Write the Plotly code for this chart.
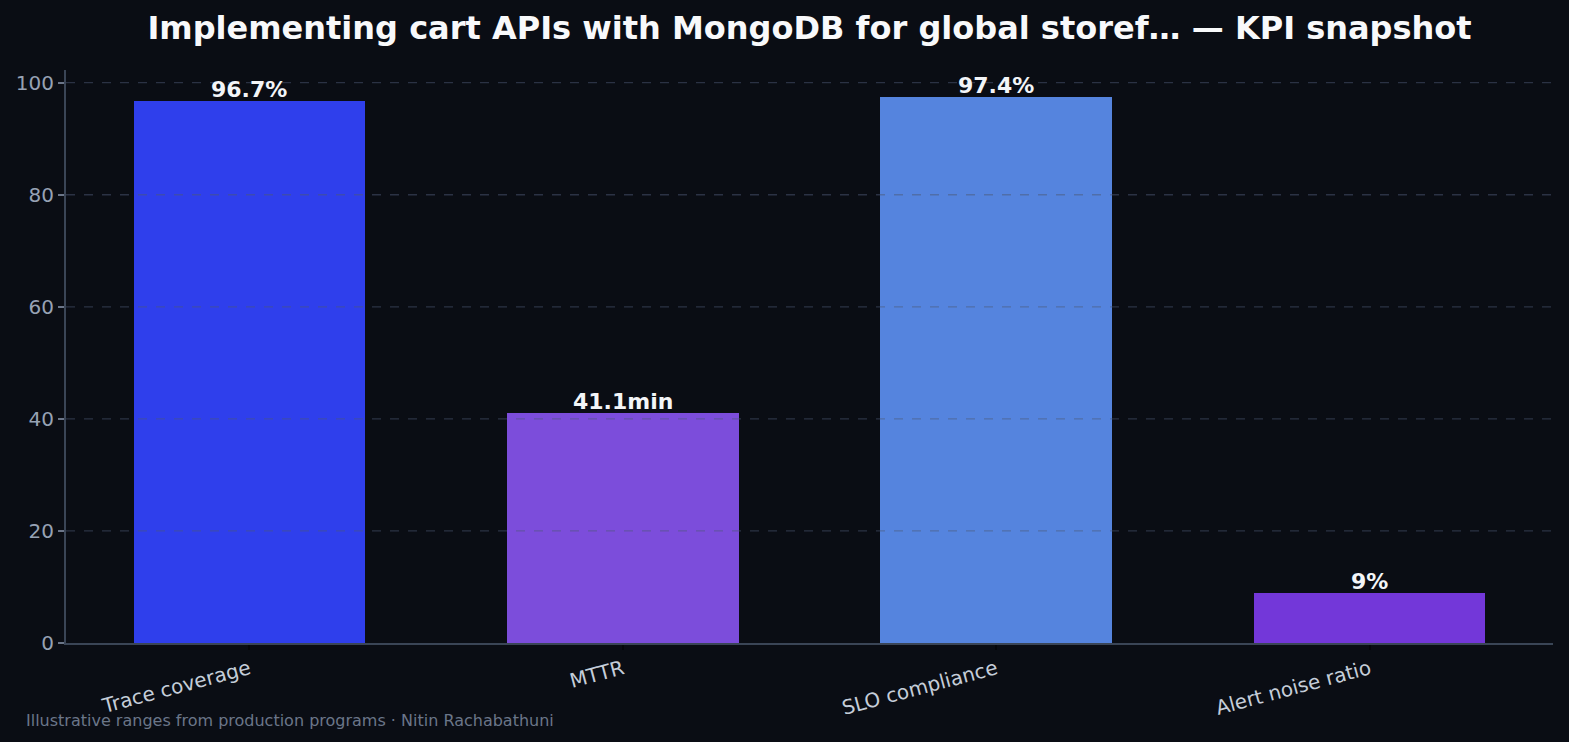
import plotly.graph_objects as go

categories = ["Trace coverage", "MTTR", "SLO compliance", "Alert noise ratio"]
values = [96.7, 41.1, 97.4, 9.0]
value_labels = ["96.7%", "41.1min", "97.4%", "9%"]
bar_colors = ["#2f3fec", "#7c4ddb", "#5584de", "#7337d9"]
y_ticks = [0, 20, 40, 60, 80, 100]

title = "Implementing cart APIs with MongoDB for global storef\u2026 \u2014 KPI snapshot"
footer = "Illustrative ranges from production programs \u00b7 Nitin Rachabathuni"

BG = "#0a0d14"
FONT = "DejaVu Sans"

x_idx = list(range(len(categories)))

fig = go.Figure()
fig.add_trace(go.Bar(
    x=x_idx, y=values, width=0.62,
    marker=dict(color=bar_colors, line=dict(width=0)),
    hoverinfo="skip",
))

# dashed gridlines drawn above bars
for t in y_ticks[1:]:
    fig.add_shape(type="line", xref="paper", x0=0, x1=1, yref="y", y0=t, y1=t,
                  line=dict(color="rgba(75,88,115,0.5)", width=1.3, dash="dash"), layer="above")

annotations = [dict(x=xi, y=v, text="<b>" + lab + "</b>", xref="x", yref="y",
                    xanchor="center", yanchor="bottom", yshift=-3, showarrow=False,
                    font=dict(family=FONT, size=22, color="#f3f5f8"))
               for xi, v, lab in zip(x_idx, values, value_labels)]
annotations.append(dict(text=footer, xref="paper", yref="paper", x=(24 - 66) / (1553 - 66),
                        y=-(720 - 643) / (643 - 70), xanchor="left", yanchor="middle", showarrow=False,
                        font=dict(family=FONT, size=16, color="#6b7689")))

fig.update_layout(
    width=1569, height=742,
    paper_bgcolor=BG, plot_bgcolor=BG,
    margin=dict(l=66, r=16, t=70, b=99),
    showlegend=False,
    bargap=0,
    title=dict(text="<b>" + title + "</b>", x=(66 + 1553) / 2 / 1569, xanchor="center",
               y=1 - 28 / 742, yanchor="middle", yref="container",
               font=dict(family=FONT, size=32, color="#f8f9fb")),
    xaxis=dict(range=[-0.491, 3.491], tickmode="array", tickvals=x_idx, ticktext=categories,
               tickangle=-15, tickfont=dict(family=FONT, size=20, color="#c5cdd9"),
               showgrid=False, zeroline=False, showline=True, linecolor="#3a4556", linewidth=2,
               ticks="outside", ticklen=5, tickcolor="#05070a", tickwidth=1.5),
    yaxis=dict(range=[0, 102.27], tickmode="array", tickvals=y_ticks,
               tickfont=dict(family=FONT, size=20, color="#97a2b4"),
               showgrid=False, zeroline=False, showline=True, linecolor="#3a4556", linewidth=2,
               ticks="outside", ticklen=6, tickcolor="#6b7689", tickwidth=1.5),
    annotations=annotations,
)

fig.write_html("out.html")
